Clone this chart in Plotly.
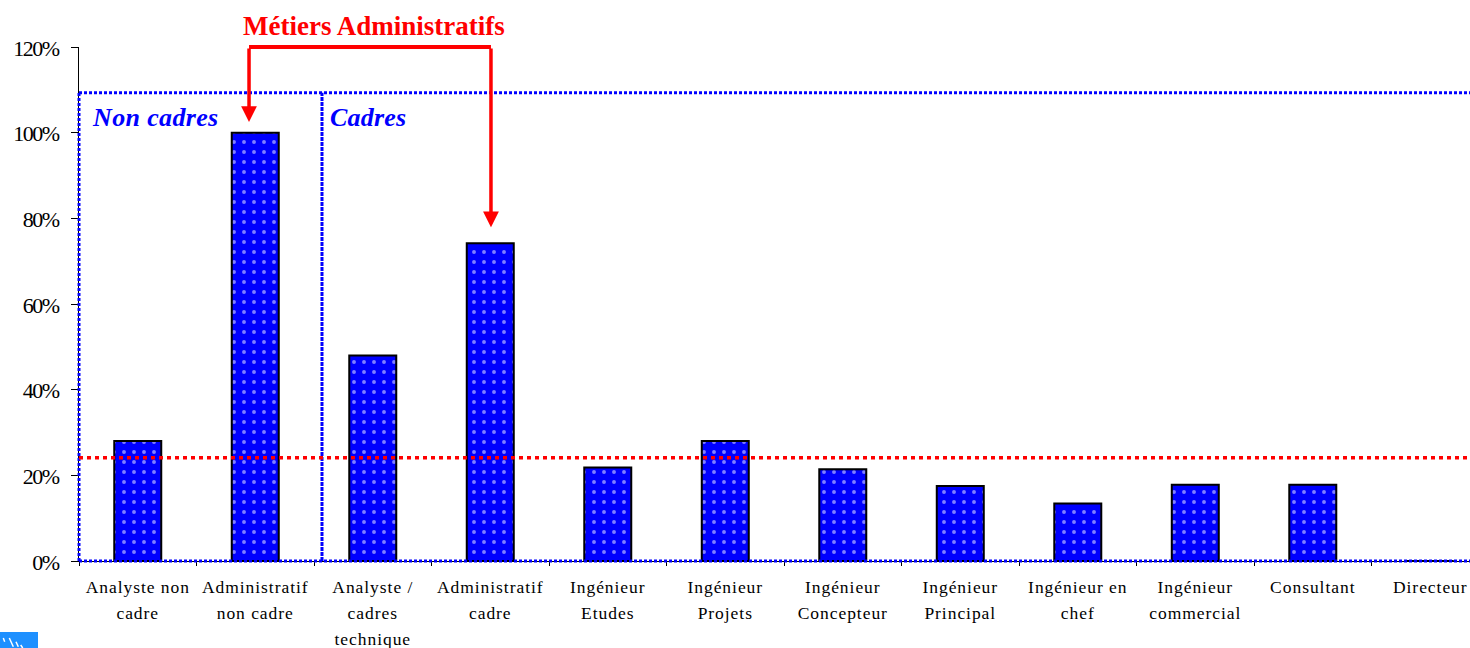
import plotly.graph_objects as go

# Job families and their share, in percent
categories = [
    "Analyste non<br>cadre", "Administratif<br>non cadre", "Analyste /<br>cadres<br>technique",
    "Administratif<br>cadre", "Ingénieur<br>Etudes", "Ingénieur<br>Projets",
    "Ingénieur<br>Concepteur", "Ingénieur<br>Principal", "Ingénieur en<br>chef",
    "Ingénieur<br>commercial", "Consultant", "Directeur",
]
values = [28, 100, 48, 74.2, 21.8, 28, 21.4, 17.5, 13.4, 17.8, 17.8, 0]
y_ticks = [0, 20, 40, 60, 80, 100, 120]

average_level = 24.1
frame_level = 109.3
frame_split = 1.568
bracket_left = 0.947
bracket_right = 3.006
bracket_level = 120
left_tip = 102.5
right_tip = 77.9

SERIF = "Liberation Serif"
BLUE = "#0000ff"
RED = "#ff0000"
X_START, X_END = -0.5, 11.338
Y_TOP = 120


def styled_category(label):
    # Larger parent font keeps the wide line spacing; the span sets the glyph size
    return "<br>".join(
        f'<span style="font-size:17.5px;letter-spacing:0.95px">{line}</span>'
        for line in label.split("<br>")
    )


x_labels = [styled_category(c) for c in categories]

fig = go.Figure(
    go.Bar(
        x=x_labels,
        y=values,
        width=0.4,
        marker=dict(
            color=BLUE,
            line=dict(color="black", width=2),
            pattern=dict(shape=".", fgcolor="#ffffff", bgcolor=BLUE, size=10, solidity=0.12),
        ),
        hoverinfo="skip",
    )
)


def fx(x):
    return (x - X_START) / (X_END - X_START)


def fy(y):
    return y / Y_TOP


def seg(x0, y0, x1, y1, color, width, dash="solid"):
    # Paper references keep lines on the plot edge from being clipped in half
    return dict(type="line", xref="paper", yref="paper", x0=fx(x0), y0=fy(y0), x1=fx(x1), y1=fy(y1),
                layer="above", line=dict(color=color, width=width, dash=dash))


def badge_mark(x0, y0, x1, y1):
    return dict(type="line", xref="paper", yref="paper", xsizemode="pixel", ysizemode="pixel",
                xanchor=0, yanchor=0, x0=x0, x1=x1, y0=y0, y1=y1,
                line=dict(color="white", width=1.5), layer="above")


shapes = [
    seg(X_START, frame_level, X_END, frame_level, BLUE, 3, "3px,2px"),
    seg(X_START, 0, X_START, frame_level, BLUE, 3, "3px,2px"),
    seg(frame_split, 0, frame_split, frame_level, BLUE, 3, "4px,1px"),
    seg(X_START, 0, X_END, 0, BLUE, 3, "3px,2px"),
    seg(X_START, average_level, X_END, average_level, RED, 3.5, "4px,4px"),
    seg(bracket_left, bracket_level, bracket_right, bracket_level, RED, 4),
    # Small corner badge
    dict(type="rect", xref="paper", yref="paper", xsizemode="pixel", ysizemode="pixel",
         xanchor=0, yanchor=0, x0=-79, x1=-41, y0=-71, y1=-87,
         fillcolor="#1e90ff", line=dict(width=0), layer="above"),
    badge_mark(-75.7, -77, -74.3, -80.7),
    badge_mark(-69.7, -77, -65.7, -85.7),
    badge_mark(-63, -80.7, -60.7, -85.7),
    badge_mark(-58.3, -84, -56.3, -87),
]


def red_arrow(x, tip):
    return dict(x=x, y=tip, ax=x, ay=bracket_level, xref="x", yref="y", axref="x", ayref="y",
                text="", showarrow=True, arrowhead=2, arrowsize=0.9, arrowwidth=3.5,
                arrowcolor=RED)


def label(text, x, y, size, color, anchor="left", italic=False, spacing=0):
    inner = f"<b><i>{text}</i></b>" if italic else f"<b>{text}</b>"
    inner = f'<span style="letter-spacing:{spacing}px">{inner}</span>'
    return dict(text=inner, xref="paper", yref="paper", x=fx(x), y=fy(y), xanchor=anchor,
                yanchor="middle", showarrow=False,
                font=dict(family=SERIF, size=size, color=color))


annotations = [
    red_arrow(bracket_left, left_tip),
    red_arrow(bracket_right, right_tip),
    label("Métiers Administratifs", 2.01, 124.9, 27, RED, "center"),
    label("Non cadres", -0.403, 103.5, 26, BLUE, italic=True, spacing=0.35),
    label("Cadres", 1.622, 103.5, 26, BLUE, italic=True, spacing=0.2),
]

fig.update_layout(
    width=1470,
    height=648,
    margin=dict(l=79, r=0, t=46.7, b=87),
    paper_bgcolor="white",
    plot_bgcolor="white",
    showlegend=False,
    shapes=shapes,
    annotations=annotations,
    font=dict(family=SERIF, color="black"),
    xaxis=dict(
        type="category",
        range=[X_START, X_END],
        tickson="boundaries",
        ticks="outside",
        ticklen=4,
        tickcolor="black",
        tickfont=dict(family=SERIF, size=20, color="black"),
        ticklabelstandoff=7,
        showgrid=False,
        showline=True,
        linecolor="black",
        tickangle=0,
        automargin=False,
    ),
    yaxis=dict(
        range=[0, Y_TOP],
        tickvals=y_ticks,
        ticktext=[f'<span style="letter-spacing:-1.5px">{t}%</span>' for t in y_ticks],
        ticks="outside",
        ticklen=7,
        tickcolor="black",
        tickfont=dict(family=SERIF, size=22, color="black"),
        ticklabelstandoff=8,
        ticklabelshift=1,
        showgrid=False,
        zeroline=False,
        showline=True,
        linecolor="black",
        automargin=False,
    ),
)

fig.write_html("out.html", config={"displayModeBar": False})
